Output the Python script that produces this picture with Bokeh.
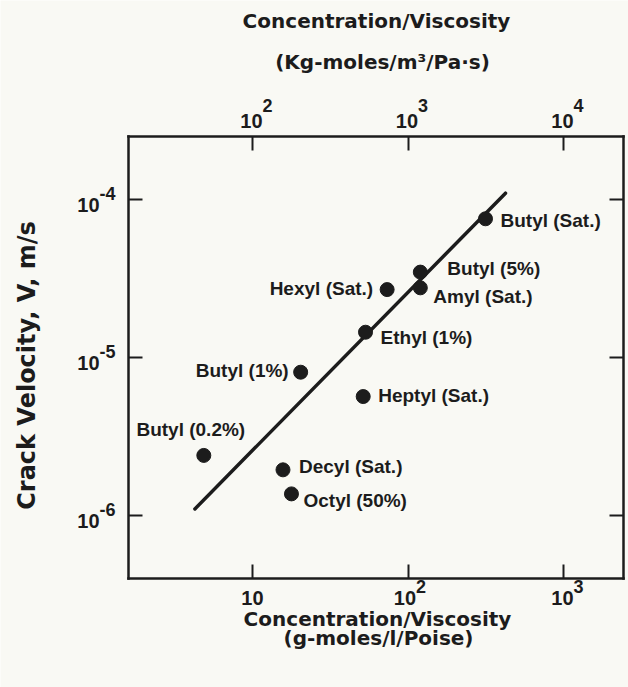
import math
from bokeh.plotting import figure
from bokeh.models import (Range1d, LogAxis, LogScale, FixedTicker, Label)
from bokeh.embed import file_html
from bokeh.resources import INLINE

# ---------------- data ----------------
names = ["Butyl (Sat.)", "Butyl (5%)", "Amyl (Sat.)", "Hexyl (Sat.)", "Ethyl (1%)",
         "Butyl (1%)", "Heptyl (Sat.)", "Butyl (0.2%)", "Decyl (Sat.)", "Octyl (50%)"]
conc = [315, 120, 120, 73.4, 53.3, 20.4, 51.5, 4.86, 15.7, 17.8]          # g-moles/l/Poise
vel = [7.55e-5, 3.47e-5, 2.76e-5, 2.69e-5, 1.445e-5, 8.07e-6, 5.66e-6, 2.40e-6, 1.945e-6, 1.37e-6]  # m/s
fit_conc = [4.26, 423.6]
fit_vel = [1.10e-6, 1.096e-4]

bottom_ticks = [10, 100, 1000]
bottom_base = ["10", "10", "10"]
bottom_sup = ["", "2", "3"]
top_ticks = [1e2, 1e3, 1e4]          # Kg-moles/m3/Pa.s  (= 10 x g-moles/l/Poise)
top_base = ["10", "10", "10"]
top_sup = ["2", "3", "4"]
left_ticks = [1e-6, 1e-5, 1e-4]
left_base = ["10", "10", "10"]
left_sup = ["-6", "-5", "-4"]

# label placement (pixels) for each point label
lab_dx = [15, 27, 13, -14, 15, -12, 15, -13, 16, 12]
lab_dy = [-2, 4, -9, 1.5, -5, 2, 1, 25.5, 3.5, -6.5]
lab_align = ["left", "left", "left", "right", "left", "right", "left", "center", "left", "left"]

# ---------------- layout / style ----------------
W, H = 628, 687
bg = "#f9f9f4"
ink = "#1c1c1c"
tick_font = "Liberation Sans"
title_font = "DejaVu Sans"

# visible range of the canvas (log axes), and the boxed axes inside it
X0, X1 = 0.2394, 2618.5
Y0, Y1 = 8.153e-8, 1.8175e-3
bx_lo, bx_hi = 1.594, 2431.0
by_lo, by_hi = 3.9926e-7, 2.5047e-4

p = figure(width=W, height=H, x_axis_type="log", y_axis_type="log",
           x_range=Range1d(X0, X1), y_range=Range1d(Y0, Y1),
           x_axis_location=None, y_axis_location=None,
           output_backend="svg", toolbar_location=None,
           min_border=0, min_border_left=0, min_border_right=0,
           min_border_top=0, min_border_bottom=0,
           background_fill_color=bg, border_fill_color=bg, outline_line_color=None)
p.grid.visible = False
p.extra_x_ranges = {"top": Range1d(X0 * 10, X1 * 10)}
p.extra_x_scales = {"top": LogScale()}

bottom_axis = LogAxis(ticker=FixedTicker(ticks=bottom_ticks), fixed_location=by_lo,
                      bounds=(bx_lo, bx_hi))
top_axis = LogAxis(ticker=FixedTicker(ticks=top_ticks), fixed_location=by_hi,
                   bounds=(bx_lo * 10, bx_hi * 10), x_range_name="top")
left_axis = LogAxis(ticker=FixedTicker(ticks=left_ticks), fixed_location=bx_lo,
                    bounds=(by_lo, by_hi))
right_axis = LogAxis(ticker=FixedTicker(ticks=left_ticks), fixed_location=bx_hi,
                     bounds=(by_lo, by_hi))
p.add_layout(bottom_axis, "below")
p.add_layout(top_axis, "above")
p.add_layout(left_axis, "left")
p.add_layout(right_axis, "right")

for ax, ticks in [(bottom_axis, bottom_ticks), (top_axis, top_ticks),
                  (left_axis, left_ticks), (right_axis, left_ticks)]:
    ax.axis_line_color = ink
    ax.axis_line_width = 2.5
    ax.axis_line_cap = "square"
    ax.major_tick_line_color = ink
    ax.major_tick_line_width = 2
    ax.major_tick_in = 14
    ax.major_tick_out = 0
    ax.minor_tick_line_color = None
    ax.major_label_overrides = {t: "" for t in ticks}
    ax.major_label_standoff = 0

# ---------------- marks ----------------
p.line(fit_conc, fit_vel, line_width=3.5, color=ink, line_cap="round")
p.scatter(conc, vel, size=14, color=ink)

def labels(xs, ys, texts, dx, dy, align, size, font, x_range_name="default"):
    for x, y, t, ox, oy in zip(xs, ys, texts, dx, dy):
        p.add_layout(Label(x=x, y=y, text=t, x_offset=ox, y_offset=oy,
                           text_align=align, text_baseline="middle", text_font=font,
                           text_font_size=size, text_font_style="bold", text_color=ink,
                           x_range_name=x_range_name))

# point labels
for i in range(len(names)):
    labels([conc[i]], [vel[i]], [names[i]], [lab_dx[i]], [lab_dy[i]], lab_align[i],
           "19px", tick_font)

# bottom tick labels
labels(bottom_ticks, [by_lo] * 3, bottom_base, [11, 8, 10], [-20] * 3, "right", "20px", tick_font)
bi = [i for i, s in enumerate(bottom_sup) if s]
labels([bottom_ticks[i] for i in bi], [by_lo] * len(bi), [bottom_sup[i] for i in bi],
       [8, 10], [-8] * len(bi), "left", "18px", tick_font)
# top tick labels
labels(top_ticks, [by_hi] * 3, top_base, [10, 10, 10], [15] * 3, "right", "20px", tick_font,
       x_range_name="top")
labels(top_ticks, [by_hi] * 3, top_sup, [10, 10, 10], [31] * 3, "left", "18px", tick_font,
       x_range_name="top")
# left tick labels
labels([bx_lo] * 3, left_ticks, left_base, [-29] * 3, [-6] * 3, "right", "20px", tick_font)
labels([bx_lo] * 3, left_ticks, left_sup, [-29] * 3, [6] * 3, "left", "18px", tick_font)

# ---------------- titles ----------------
def title(text, x, y, size, angle=0.0):
    p.add_layout(Label(x=x, y=H - y, x_units="screen", y_units="screen", text=text,
                       text_align="center", text_baseline="middle", angle=angle,
                       text_font=title_font, text_font_size=size, text_font_style="bold",
                       text_color=ink))

title("Concentration/Viscosity", 376, 20.5, "20px")
title("(Kg-moles/m\u00b3/Pa\u00b7s)", 382, 61, "20px")
title("Concentration/Viscosity", 377, 618.5, "20px")
title("(g-moles/l/Poise)", 378, 637, "20px")
title("Crack Velocity, V, m/s", 26, 365, "24px", angle=math.pi / 2)

open("out.html", "w").write(file_html(p, INLINE))
